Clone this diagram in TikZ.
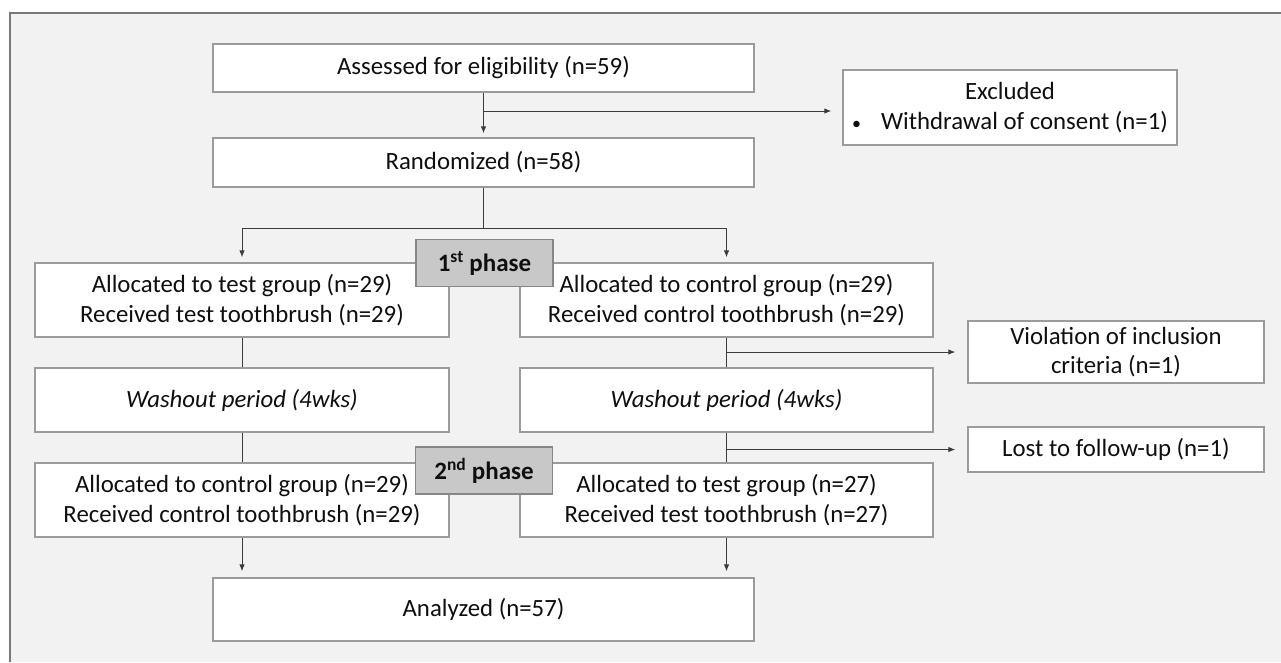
\documentclass[tikz,border=0pt]{standalone}
\usepackage{fontspec}
\setmainfont{Carlito}
\usetikzlibrary{arrows.meta,calc}
\definecolor{bgc}{RGB}{242,242,242}
\definecolor{framec}{RGB}{120,120,120}
\definecolor{boxc}{RGB}{155,155,155}
\definecolor{linec}{RGB}{60,60,60}
\definecolor{phasefill}{RGB}{200,200,200}
\definecolor{phaseborder}{RGB}{135,135,135}
\definecolor{txt}{RGB}{15,15,15}
\begin{document}
\begin{tikzpicture}[x=1pt,y=-1pt,
  box/.style={draw=boxc, line width=1.3pt, fill=white, inner sep=0pt, align=center,
    font=\fontsize{24.8}{29.5}\selectfont, text=txt},
  phasebox/.style={draw=phaseborder, line width=1.5pt, fill=phasefill, inner sep=0pt,
    font=\fontsize{25}{28}\selectfont\bfseries, text=txt, minimum width=137pt, minimum height=47pt},
  conn/.style={draw=linec, line width=1pt},
  arr/.style={conn, -{Latex[length=7pt,width=5.5pt]}}
]
\fill[white] (0,0) rectangle (1281,662);
\useasboundingbox (0,0) rectangle (1281,662);
\fill[bgc] (10,13) rectangle (1281,662);
\draw[framec, line width=1.2pt] (10,662) -- (10,13) -- (1281,13);

% boxes
\node[box, minimum width=541pt, minimum height=48pt] (assess) at (483.5,68) {Assessed for eligibility (n=59)};
\node[box, minimum width=334pt, minimum height=75pt] (excl) at (1010,107.5) {Excluded\\{\fontsize{18}{29}\selectfont\textbullet}\hspace{20pt}Withdrawal of consent (n=1)};
\node[box, minimum width=541pt, minimum height=49pt] (rand) at (483.5,162.5) {Randomized (n=58)};

\node[box, minimum width=414pt, minimum height=74pt] (alloc1L) at (242,300) {Allocated to test group (n=29)\\Received test toothbrush (n=29)};
\node[box, minimum width=413pt, minimum height=74pt] (alloc1R) at (726.5,300) {Allocated to control group (n=29)\\Received control toothbrush (n=29)};

\node[box, minimum width=296pt, minimum height=62pt] (viol) at (1116,352) {Violation of inclusion\\criteria (n=1)};

\node[box, minimum width=414pt, minimum height=64pt] (washL) at (242,400) {\itshape Washout period (4wks)};
\node[box, minimum width=413pt, minimum height=64pt] (washR) at (726.5,400) {\itshape Washout period (4wks)};

\node[box, minimum width=296pt, minimum height=45pt] (lost) at (1116,449.5) {Lost to follow-up (n=1)};

\node[box, minimum width=414pt, minimum height=74pt] (alloc2L) at (242,500) {Allocated to control group (n=29)\\Received control toothbrush (n=29)};
\node[box, minimum width=413pt, minimum height=74pt] (alloc2R) at (726.5,500) {Allocated to test group (n=27)\\Received test toothbrush (n=27)};

\node[box, minimum width=541pt, minimum height=63pt] (anal) at (483.5,609.5) {Analyzed (n=57)};

% connectors
\coordinate (b1) at (483.5,111);
\draw[arr, shorten >=4pt] (assess.south) -- (rand.north);
\draw[arr, shorten >=11pt] (b1) -- (b1 -| excl.west);

\coordinate (s1) at (483.5,228);
\draw[conn] (rand.south) -- (s1);
\draw[arr, shorten >=5pt] (s1) -| (alloc1L.north);
\draw[arr, shorten >=5pt] (s1) -| (alloc1R.north);

\draw[conn] (alloc1L.south) -- (washL.north);
\draw[conn] (washL.south) -- (alloc2L.north);
\draw[arr, shorten >=6pt] (alloc2L.south) -- (alloc2L.south |- anal.north);

\draw[conn] (alloc1R.south) -- (washR.north);
\draw[conn] (washR.south) -- (alloc2R.north);
\coordinate (b2) at (alloc1R.south |- viol.west);
\coordinate (b3) at (washR.south |- lost.west);
\draw[arr, shorten >=12pt] (b2) -- (viol.west);
\draw[arr, shorten >=12pt] (b3) -- (lost.west);
\draw[arr, shorten >=6pt] (alloc2R.south) -- (alloc2R.south |- anal.north);

% phase labels
\node[phasebox] (ph1) at (484.5,263) {1\textsuperscript{st} phase};
\node[phasebox] (ph2) at (484,470.5) {2\textsuperscript{nd} phase};
\end{tikzpicture}
\end{document}
